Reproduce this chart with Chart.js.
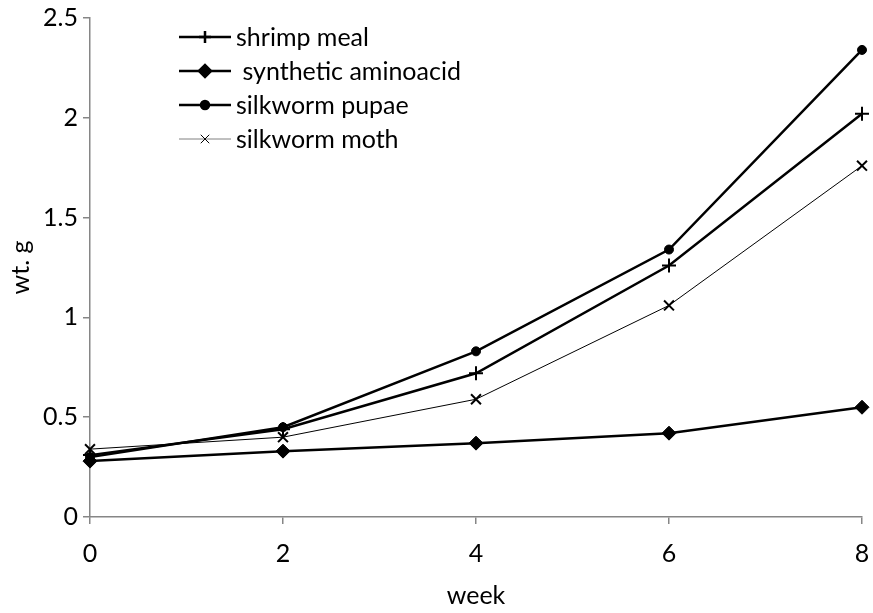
<!DOCTYPE html>
<html>
<head>
<meta charset="utf-8">
<script src="https://cdn.jsdelivr.net/npm/chart.js@4/dist/chart.umd.min.js"></script>
<style>
  html, body { margin: 0; padding: 0; background: #fff; }
  #wrap { width: 873px; height: 613px; position: relative; }
</style>
</head>
<body>
<div id="wrap"><canvas id="c" width="873" height="613"></canvas></div>
<script>
const weeks = [0, 2, 4, 6, 8];
const shrimpMeal = [0.31, 0.44, 0.72, 1.26, 2.02];
const syntheticAminoacid = [0.28, 0.33, 0.37, 0.42, 0.55];
const silkwormPupae = [0.30, 0.45, 0.83, 1.34, 2.34];
const silkwormMoth = [0.34, 0.40, 0.59, 1.06, 1.76];
const seriesLabels = ['shrimp meal', ' synthetic aminoacid', 'silkworm pupae', 'silkworm moth'];
const yTicks = [0, 0.5, 1, 1.5, 2, 2.5];
const xTicks = [0, 2, 4, 6, 8];

const FONT = 'Lato, "Open Sans", sans-serif';
const FS = 25;
const toPts = (vals) => weeks.map((w, i) => ({ x: w, y: vals[i] }));

const legendLines = ['#000', '#000', '#000', '#808080'];

const insideLegend = {
  id: 'insideLegend',
  afterDraw(chart) {
    const ctx = chart.ctx;
    const x0 = 179, x1 = 231, tx = 236;
    const rows = [37, 71, 105, 139];
    chart.data.datasets.forEach((ds, i) => {
      const y = rows[i];
      ctx.save();
      ctx.strokeStyle = legendLines[i];
      ctx.lineWidth = ds.borderWidth;
      ctx.beginPath();
      ctx.moveTo(x0, y); ctx.lineTo(x1, y); ctx.stroke();
      ctx.strokeStyle = '#000';
      ctx.fillStyle = '#000';
      Chart.helpers.drawPoint(ctx, {
        pointStyle: ds.pointStyle, radius: ds.legendRadius, borderWidth: ds.pointBorderWidth
      }, (x0 + x1) / 2, y);
      ctx.font = FS + 'px ' + FONT;
      ctx.textBaseline = 'middle';
      ctx.textAlign = 'left';
      ctx.fillText(ds.label, tx, y + 1);
      ctx.restore();
    });
  }
};

new Chart(document.getElementById('c'), {
  type: 'line',
  data: {
    datasets: [
      { label: seriesLabels[0], data: toPts(shrimpMeal), borderColor: '#000', backgroundColor: '#000',
        borderWidth: 2.5, pointStyle: 'cross', pointRadius: 7, pointBorderWidth: 2, legendRadius: 6, clip: false },
      { label: seriesLabels[1], data: toPts(syntheticAminoacid), borderColor: '#000', backgroundColor: '#000',
        borderWidth: 2.5, pointStyle: 'rectRot', pointRadius: 7, pointBorderWidth: 1, legendRadius: 6, clip: false },
      { label: seriesLabels[2], data: toPts(silkwormPupae), borderColor: '#000', backgroundColor: '#000',
        borderWidth: 2.5, pointStyle: 'circle', pointRadius: 4.5, pointBorderWidth: 1, legendRadius: 4, clip: false },
      { label: seriesLabels[3], data: toPts(silkwormMoth), borderColor: '#000', backgroundColor: '#000',
        borderWidth: 1, pointStyle: 'crossRot', pointRadius: 7, pointBorderWidth: 2, legendRadius: 6, clip: false }
    ]
  },
  options: {
    responsive: false,
    animation: false,
    events: [],
    layout: { padding: { top: 18, right: 11, left: 0, bottom: 0 } },
    elements: { line: { tension: 0 } },
    plugins: { legend: { display: false }, tooltip: { enabled: false } },
    scales: {
      x: {
        type: 'linear', min: 0, max: 8,
        afterBuildTicks: (s) => { s.ticks = xTicks.map(v => ({ value: v })); },
        afterFit: (s) => { s.height = 96; s.paddingRight = 0; s.paddingLeft = 0; },
        border: { color: '#868686', width: 1.5 },
        grid: { drawOnChartArea: false, color: '#868686', tickLength: 7, lineWidth: 1.5 },
        ticks: { color: '#000', font: { family: FONT, size: FS }, padding: 15, maxRotation: 0 },
        title: { display: true, text: 'week', color: '#000', font: { family: FONT, size: FS }, padding: { top: 0, bottom: 2 } }
      },
      y: {
        type: 'linear', min: 0, max: 2.5,
        afterBuildTicks: (s) => { s.ticks = yTicks.map(v => ({ value: v })); },
        afterFit: (s) => { s.width = 90; s.paddingTop = 0; s.paddingBottom = 0; },
        border: { color: '#868686', width: 1.5 },
        grid: { drawOnChartArea: false, color: '#868686', tickLength: 7, lineWidth: 1.5 },
        ticks: { color: '#000', font: { family: FONT, size: FS }, padding: 5,
                 callback: (v) => String(v) },
        title: { display: true, text: 'wt. g', color: '#000', font: { family: FONT, size: FS }, padding: { top: 6, bottom: 8 } }
      }
    }
  },
  plugins: [insideLegend]
});
</script>
</body>
</html>
